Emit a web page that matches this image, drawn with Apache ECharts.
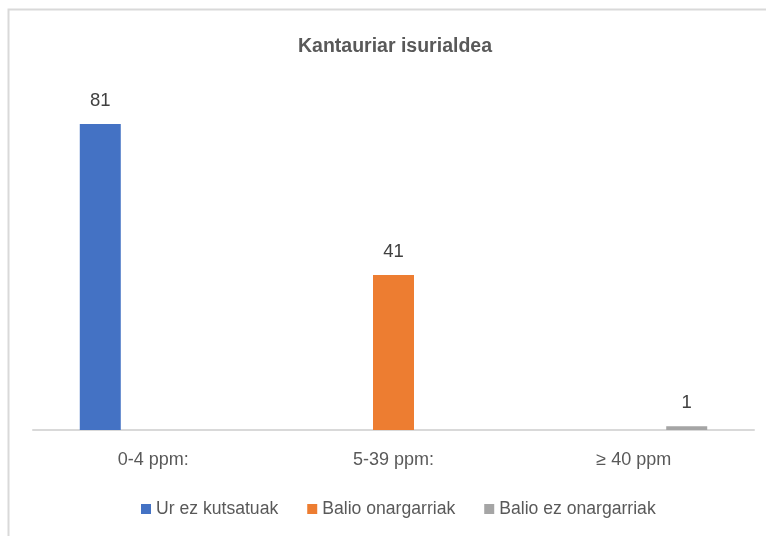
<!DOCTYPE html>
<html>
<head>
<meta charset="utf-8">
<script src="https://cdn.jsdelivr.net/npm/echarts@6/dist/echarts.min.js"></script>
<style>
    html, body { margin: 0; padding: 0; background: #fff; }
    #chart { width: 766px; height: 536px; }
</style>
</head>
<body>
<div id="chart"></div>
<script>
// datuak
const categories = ['0-4 ppm:', '5-39 ppm:', '≥ 40 ppm'];
const seriesNames = ['Ur ez kutsatuak', 'Balio onargarriak', 'Balio ez onargarriak'];
const urEzKutsatuak = [81, '-', '-'];
const balioOnargarriak = ['-', 41, '-'];
const balioEzOnargarriak = ['-', '-', 1];
const colors = ['#4472c4', '#ed7d31', '#a5a5a5'];

const font = '"Liberation Sans", Arial, sans-serif';

let myChart = echarts.init(document.getElementById('chart'));

function makeSeries(name, data, color) {
    return {
        name: name,
        type: 'bar',
        data: data,
        barWidth: 41,
        barGap: '29%',
        itemStyle: { color: color },
        label: {
            show: true,
            position: 'top',
            distance: 14,
            color: '#404040',
            fontFamily: font,
            fontSize: 18.5
        }
    };
}

myChart.setOption({
    animation: false,
    // ertza
    graphic: [{
        type: 'rect',
        shape: { x: 8.5, y: 9.5, width: 800, height: 600 },
        style: { fill: 'none', stroke: '#d9d9d9', lineWidth: 2 },
        silent: true
    }],
    title: {
        text: 'Kantauriar isurialdea',
        left: 293,
        top: 32,
        textStyle: {
            color: '#595959',
            fontFamily: font,
            fontSize: 19.5,
            fontWeight: 'bold'
        }
    },
    legend: {
        bottom: 13,
        left: 136,
        icon: 'rect',
        itemWidth: 10,
        itemHeight: 10,
        itemGap: 29,
        textStyle: {
            color: '#595959',
            fontFamily: font,
            fontSize: 17.6
        },
        data: seriesNames
    },
    grid: {
        left: 33,
        right: 12,
        top: 90,
        bottom: 106
    },
    xAxis: {
        type: 'category',
        data: categories,
        axisLine: { lineStyle: { color: '#d9d9d9', width: 2 } },
        axisTick: { show: false },
        axisLabel: {
            color: '#595959',
            fontFamily: font,
            fontSize: 18,
            margin: 21
        }
    },
    yAxis: {
        type: 'value',
        min: 0,
        max: 90,
        show: false,
        splitLine: { show: false }
    },
    series: [
        makeSeries(seriesNames[0], urEzKutsatuak, colors[0]),
        makeSeries(seriesNames[1], balioOnargarriak, colors[1]),
        makeSeries(seriesNames[2], balioEzOnargarriak, colors[2])
    ]
});
</script>
</body>
</html>
